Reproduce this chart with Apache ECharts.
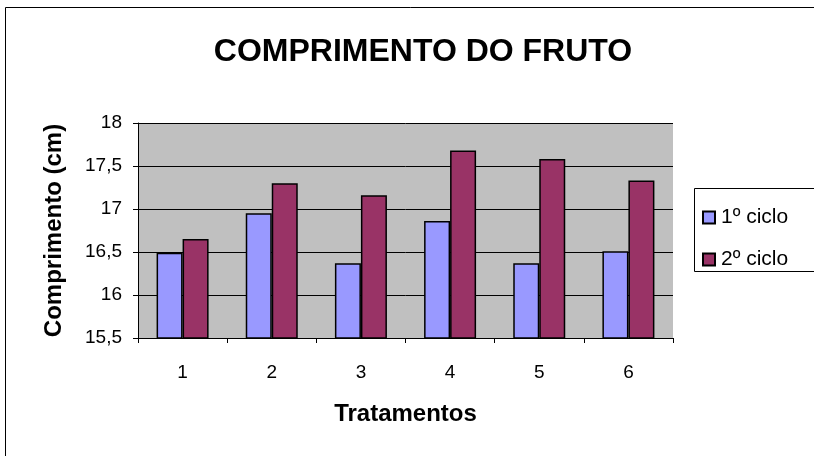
<!DOCTYPE html>
<html><head><meta charset="utf-8">
<script src="https://cdn.jsdelivr.net/npm/echarts@6/dist/echarts.min.js"></script>
<style>html,body{margin:0;padding:0;background:#fff}#c{width:814px;height:456px}</style>
</head><body><div id="c"></div>
<script>
var categories = ['1','2','3','4','5','6'];
var ciclo1 = [16.49, 16.95, 16.37, 16.86, 16.37, 16.51];
var ciclo2 = [16.65, 17.30, 17.16, 17.68, 17.58, 17.33];
var seriesNames = ['1º ciclo', '2º ciclo'];

var chart = echarts.init(document.getElementById('c'));
var font = '"Liberation Sans", Arial, sans-serif';
chart.setOption({
  animation: false,
  backgroundColor: '#fff',
  textStyle: { fontFamily: font },
  title: {
    text: 'COMPRIMENTO DO FRUTO', left: 418, top: 31, textAlign: 'center',
    textStyle: { fontFamily: font, fontSize: 32, fontWeight: 'bold', color: '#000' }
  },
  graphic: [
    { type: 'rect', shape: { x: 5.5, y: 7.5, width: 900, height: 500 }, style: { fill: null, stroke: '#000', lineWidth: 1 }, z: -1 },
    { type: 'rect', shape: { x: 694.5, y: 188.5, width: 200, height: 83 }, style: { fill: '#fff', stroke: '#000', lineWidth: 1 }, z: 0 }
  ],
  legend: {
    left: 697, top: 202, orient: 'vertical', itemGap: 21, itemWidth: 12, itemHeight: 12,
    icon: 'rect',
    textStyle: { fontFamily: font, fontSize: 21, color: '#000', padding: [0,0,0,1] },
    data: seriesNames, z: 5
  },
  grid: { left: 138, right: 141, top: 123, bottom: 118, show: true, backgroundColor: '#c0c0c0', borderWidth: 0 },
  xAxis: {
    type: 'category', data: categories,
    name: 'Tratamentos', nameLocation: 'middle', nameGap: 64,
    nameTextStyle: { fontFamily: font, fontSize: 24, fontWeight: 'bold', color: '#000' },
    axisLine: { lineStyle: { color: '#000', width: 1 } },
    axisTick: { show: true, length: 5, lineStyle: { color: '#000' } },
    axisLabel: { fontSize: 19, color: '#000', margin: 25, fontFamily: font }
  },
  yAxis: {
    type: 'value', min: 15.5, max: 18, interval: 0.5,
    name: 'Comprimento (cm)', nameLocation: 'middle', nameGap: 72,
    nameTextStyle: { fontFamily: font, fontSize: 24, fontWeight: 'bold', color: '#000' },
    axisLine: { show: true, lineStyle: { color: '#000', width: 1 } },
    axisTick: { show: true, length: 5, lineStyle: { color: '#000' } },
    axisLabel: { fontSize: 19, color: '#000', margin: 16, fontFamily: font,
      formatter: function (v) { return String(v).replace('.', ','); } },
    splitLine: { show: true, lineStyle: { color: '#000', width: 1 } }
  },
  series: [
    { name: seriesNames[0], type: 'bar', data: ciclo1, barWidth: 26, barGap: '0%',
      itemStyle: { color: '#9999ff', borderColor: '#000', borderWidth: 1.5 } },
    { name: seriesNames[1], type: 'bar', data: ciclo2, barWidth: 26,
      itemStyle: { color: '#993366', borderColor: '#000', borderWidth: 1.5 } }
  ]
});
</script></body></html>
